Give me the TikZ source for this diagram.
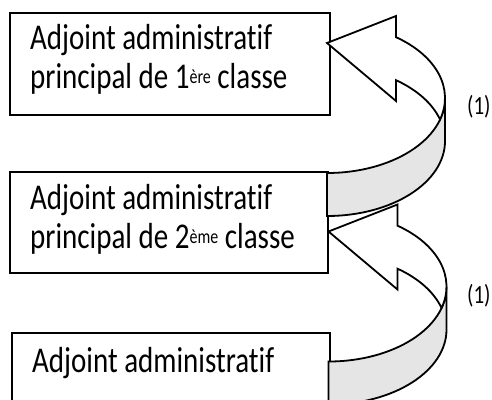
\documentclass[tikz,border=0pt]{standalone}
\usepackage{fontspec}
\setmainfont{Carlito}[Ligatures=NoCommon]
% text is set a little taller than wide
\newcommand\tall[1]{\scalebox{1}[1.25]{#1}}
% raised ordinal suffix (1ère, 2ème)
\newcommand\ordsup[1]{\raisebox{4pt}{\fontsize{16}{16}\selectfont #1}}
\begin{document}
\begin{tikzpicture}[x=1pt,y=-1pt,
  box/.style={draw, line width=1.8pt, fill=white, rectangle, inner sep=0pt, anchor=north west},
  txt/.style={anchor=base west, inner sep=0pt, font=\fontsize{29}{39}\selectfont},
  note/.style={anchor=base west, inner sep=0pt, font=\fontsize{21}{25}\selectfont},
  band/.style={draw, line width=1.8pt, line join=miter, fill=gray!20},
  head/.style={draw, line width=1.8pt, line join=miter, fill=white},
  % curved left arrow: shaded underside band, then the white face with its head
  pics/curvedarrow/.style={code={
    \path[band] (118,98) arc[start angle=0, end angle=90, x radius=118, y radius=75]
      -- (0,216) arc[start angle=90, end angle=0, x radius=118, y radius=75] -- cycle;
    \path[head] (69,37.17) arc[start angle=-54.21, end angle=16.66, x radius=118, y radius=75]
      arc[start angle=-16.66, end angle=-54.21, x radius=118, y radius=75]
      -- (69,101) -- (0,43) -- (69,16) -- cycle;
  }}
]
\useasboundingbox (0,0) rectangle (492,399);
\clip (0,0) rectangle (492,399);

% grade boxes
\node[box, minimum width=320pt, minimum height=102pt] (b1) at (9,12) {};
\node[box, minimum width=318pt, minimum height=101pt] (b2) at (9,171) {};
\node[box, minimum width=318pt, minimum height=100pt] (b3) at (11,332) {};

\node[txt] (t1a) at (30,49) {\tall{Adjoint administratif}};
\node[txt] (t1b) at (30,88) {\tall{principal de 1\ordsup{ère} classe}};
\node[txt] (t2a) at (30,209) {\tall{Adjoint administratif}};
\node[txt] (t2b) at (30,248) {\tall{principal de 2\ordsup{ème} classe}};
\node[txt] (t3a) at (32,372) {\tall{Adjoint administratif}};

% promotion arrows
\pic at (327,0) {curvedarrow};
\pic at (328.5,188.5) {curvedarrow};

\node[note] (n1) at (467,114) {\tall{(1)}};
\node[note] (n2) at (467,303) {\tall{(1)}};
\end{tikzpicture}
\end{document}
